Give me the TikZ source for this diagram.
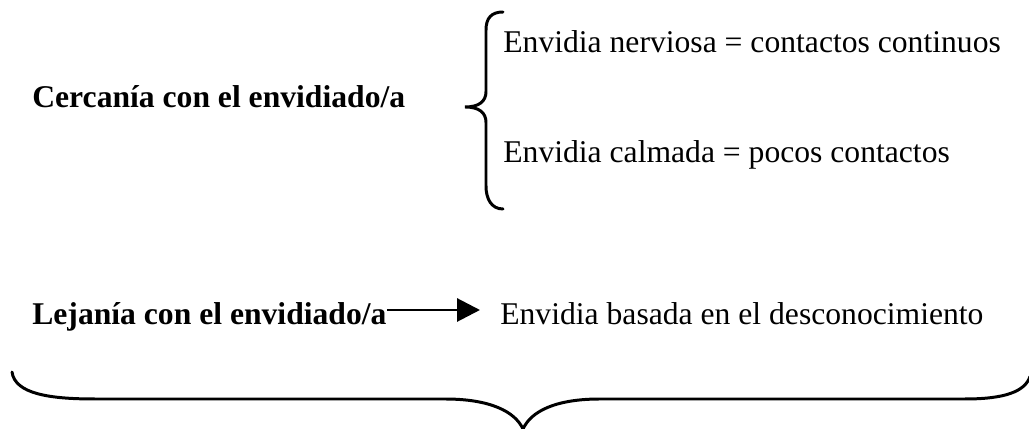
\documentclass[tikz,border=0pt]{standalone}
\usepackage{fontspec}
\setmainfont{Liberation Serif}
\usetikzlibrary{arrows.meta,positioning}

\tikzset{
  txt/.style={anchor=base west, inner sep=0pt, font=\fontsize{18}{22}\selectfont},
  hd/.style={txt, font=\fontsize{18}{22}\selectfont\bfseries},
  brace/.style={line width=1.7pt, line cap=round}
}

\begin{document}
\begin{tikzpicture}
  \useasboundingbox (0,0) rectangle (20.58cm,8.58cm);

  \node [hd] (cerca) at (0.64,6.42) {Cercanía con el envidiado/a};
  \node [txt] (nerv) at (10.06,7.52) {Envidia nerviosa = contactos continuos};
  \node [txt] (calm) at (10.06,5.32) {Envidia calmada = pocos contactos};

  % left brace
  \draw [brace] (10.06,8.34) .. controls (9.83,8.34) and (9.72,8.22) .. (9.72,7.98)
    -- (9.72,6.75) .. controls (9.72,6.55) and (9.58,6.44) .. (9.30,6.44)
    .. controls (9.58,6.44) and (9.72,6.33) .. (9.72,6.13)
    -- (9.72,4.86) .. controls (9.72,4.6) and (9.83,4.40) .. (10.06,4.40);

  \node [hd] (lejos) at (0.64,2.08) {Lejanía con el envidiado/a};
  \node [txt] (desc) at (10.0,2.08) {Envidia basada en el desconocimiento};
  \coordinate (tip) at (9.6,2.38);
  \draw [line width=1.7pt, -{Triangle[length=0.46cm,width=0.46cm]}] (lejos.east |- tip) -- (tip);

  % bottom brace
  \draw [brace] (0.24,1.14) .. controls (0.3,0.7) and (1.0,0.6) .. (1.9,0.6) -- (8.9,0.6)
    .. controls (9.8,0.6) and (10.3,0.35) .. (10.46,0.0)
    .. controls (10.62,0.35) and (11.1,0.6) .. (12.0,0.6) -- (19.3,0.6)
    .. controls (20.1,0.6) and (20.5,0.75) .. (20.6,1.05);
\end{tikzpicture}
\end{document}
